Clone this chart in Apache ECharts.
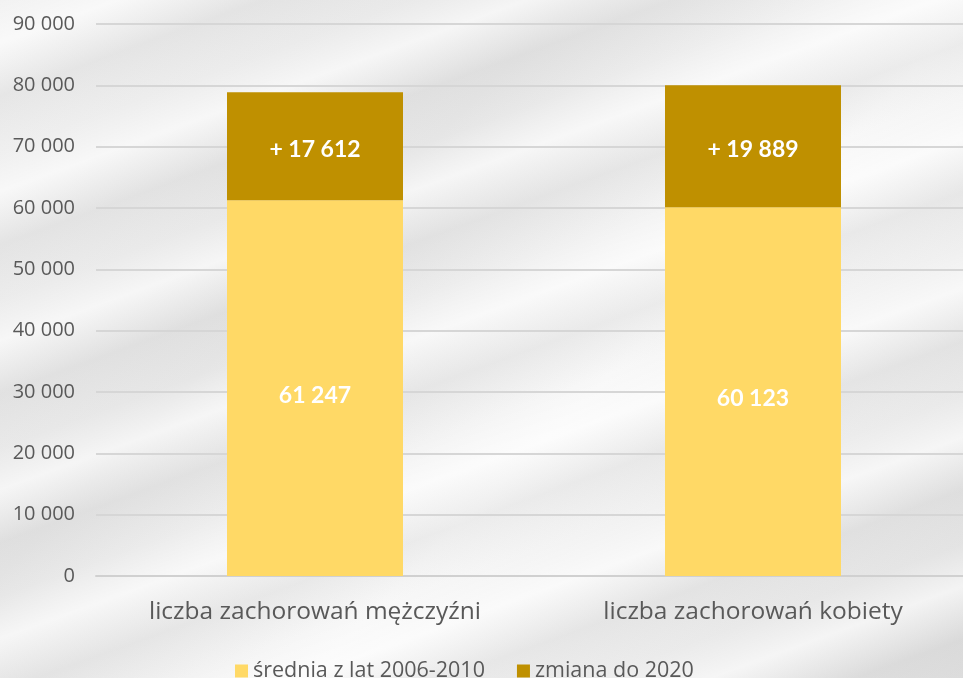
<!DOCTYPE html>
<html>
<head>
<meta charset="utf-8">
<script src="https://cdn.jsdelivr.net/npm/echarts@6/dist/echarts.min.js"></script>
<style>
  html, body { margin: 0; padding: 0; }
  body {
    width: 963px; height: 678px; overflow: hidden;
    background:
      repeating-linear-gradient(160deg, rgba(255,255,255,0) 0px, rgba(255,255,255,0.6) 40px, rgba(200,200,200,0.25) 90px, rgba(255,255,255,0) 140px),
      linear-gradient(135deg, #f2f2f2 0%, #e6e6e6 35%, #f8f8f8 60%, #dedede 100%);
  }
  /* chart is a bit wider than the window so grid lines run off the right edge */
  #chart { width: 985px; height: 678px; }
</style>
</head>
<body>
<div id="chart"></div>
<script>
var categories = ['liczba zachorowań mężczyźni', 'liczba zachorowań kobiety'];
var baseValues = [61247, 60123];
var changeValues = [17612, 19889];
var seriesNames = ['średnia z lat 2006-2010', 'zmiana do 2020'];

function fmt(v) {
  return String(v).replace(/\B(?=(\d{3})+(?!\d))/g, ' ');
}

var myChart = echarts.init(document.getElementById('chart'));
var option = {
  backgroundColor: 'transparent',
  textStyle: { fontFamily: '"Open Sans", sans-serif' },
  legend: {
    bottom: -9,
    left: 230,
    itemWidth: 13,
    itemHeight: 13,
    itemGap: 32,
    icon: 'rect',
    textStyle: { color: '#595959', fontSize: 21.5, fontFamily: '"Open Sans", sans-serif' },
    data: seriesNames
  },
  grid: {
    left: 96,
    right: 13,
    top: 24,
    bottom: 102
  },
  xAxis: {
    type: 'category',
    data: categories,
    axisTick: { show: false },
    axisLine: { lineStyle: { color: '#d0d0d0', width: 2 } },
    axisLabel: {
      color: '#595959',
      fontSize: 24.5,
      margin: 24,
      fontFamily: '"Open Sans", sans-serif'
    }
  },
  yAxis: {
    type: 'value',
    min: 0,
    max: 90000,
    interval: 10000,
    axisLine: { show: false },
    axisTick: { show: false },
    splitLine: { lineStyle: { color: '#d6d6d6', width: 2 } },
    axisLabel: {
      color: '#595959',
      fontSize: 20,
      margin: 21,
      fontFamily: '"Open Sans", sans-serif',
      formatter: function (v) { return fmt(v); }
    }
  },
  series: [
    {
      name: seriesNames[0],
      type: 'bar',
      stack: 'total',
      barWidth: 176,
      itemStyle: { color: '#FFD966' },
      label: {
        show: true,
        position: 'inside',
        offset: [0, 7],
        color: '#ffffff',
        fontWeight: 'bold',
        fontSize: 23,
        fontFamily: 'Lato, sans-serif',
        formatter: function (p) { return fmt(p.value); }
      },
      data: baseValues
    },
    {
      name: seriesNames[1],
      type: 'bar',
      stack: 'total',
      barWidth: 176,
      itemStyle: { color: '#BF9000' },
      label: {
        show: true,
        position: 'inside',
        offset: [0, 3],
        color: '#ffffff',
        fontWeight: 'bold',
        fontSize: 23,
        fontFamily: 'Lato, sans-serif',
        formatter: function (p) { return '+ ' + fmt(p.value); }
      },
      data: changeValues
    }
  ]
};
option && myChart.setOption(option);
</script>
</body>
</html>
